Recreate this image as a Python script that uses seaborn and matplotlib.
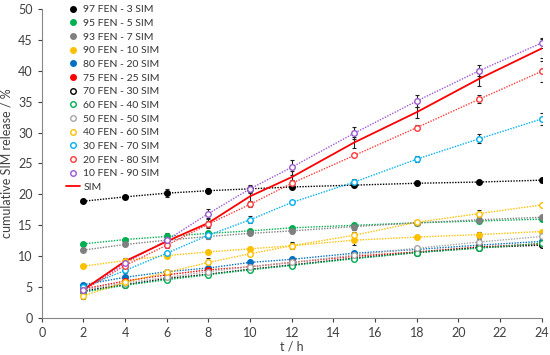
import numpy as np
import pandas as pd
import matplotlib
matplotlib.use("Agg")
import matplotlib.pyplot as plt
from matplotlib.lines import Line2D
import seaborn as sns

# sampling times (h)
t = [2, 4, 6, 8, 10, 12, 15, 18, 21, 24]

# cumulative SIM release (%) and error bars
s97_3 = [18.9, 19.6, 20.2, 20.6, 20.9, 21.2, 21.5, 21.8, 22.0, 22.3]
e97_3 = [0.2, 0.3, 0.6, 0.4, 0.5, 0.4, 0.3, 0.2, 0.2, 0.3]
s95_5 = [12.0, 12.7, 13.2, 13.7, 14.1, 14.6, 15.0, 15.4, 15.7, 16.0]
e95_5 = [0.2, 0.2, 0.5, 0.3, 0.3, 0.3, 0.3, 0.2, 0.3, 0.3]
s93_7 = [11.0, 11.9, 12.6, 13.2, 13.7, 14.1, 14.8, 15.4, 15.9, 16.3]
e93_7 = [0.2, 0.2, 0.6, 0.4, 0.3, 0.4, 0.5, 0.3, 0.3, 0.4]
s90_10 = [8.4, 9.3, 10.1, 10.7, 11.2, 11.7, 12.6, 13.1, 13.5, 14.0]
e90_10 = [0.2, 0.3, 0.3, 0.3, 0.3, 0.4, 0.8, 0.3, 0.5, 0.3]
s80_20 = [5.4, 6.6, 7.5, 8.1, 9.0, 9.5, 10.5, 11.1, 11.8, 12.4]
e80_20 = [0.3, 0.3, 0.3, 0.3, 0.3, 0.3, 0.3, 0.3, 0.3, 0.3]
s75_25 = [4.7, 6.0, 7.0, 7.8, 8.3, 9.0, 10.0, 10.7, 11.5, 12.0]
e75_25 = [0.3, 0.3, 0.3, 0.3, 0.3, 0.3, 0.3, 0.3, 0.3, 0.3]
s70_30 = [4.4, 5.4, 6.4, 7.1, 7.9, 8.6, 9.7, 10.6, 11.4, 11.8]
e70_30 = [0.3, 0.3, 0.3, 0.3, 0.3, 0.3, 0.3, 0.3, 0.4, 0.3]
s60_40 = [4.2, 5.3, 6.2, 7.0, 7.8, 8.5, 9.6, 10.6, 11.3, 12.1]
e60_40 = [0.3, 0.3, 0.3, 0.3, 0.3, 0.3, 0.3, 0.3, 0.3, 0.3]
s50_50 = [4.6, 5.7, 6.6, 7.5, 8.3, 9.0, 10.2, 11.3, 12.3, 13.2]
e50_50 = [0.3, 0.3, 0.3, 0.3, 0.3, 0.3, 0.3, 0.4, 0.5, 0.5]
s40_60 = [3.6, 5.8, 7.4, 9.0, 10.4, 11.7, 13.4, 15.5, 16.9, 18.3]
e40_60 = [0.5, 0.4, 0.4, 0.7, 0.4, 0.6, 0.5, 0.4, 0.5, 0.3]
s30_70 = [5.0, 7.7, 10.5, 13.4, 15.9, 18.7, 22.0, 25.7, 29.0, 32.2]
e30_70 = [0.4, 0.4, 0.4, 0.4, 0.6, 0.3, 0.5, 0.5, 0.7, 1.0]
s20_80 = [4.5, 8.5, 11.8, 15.2, 18.4, 21.8, 26.3, 30.8, 35.4, 39.9]
e20_80 = [0.4, 0.4, 0.5, 0.5, 0.4, 0.6, 0.3, 0.4, 0.6, 1.7]
s10_90 = [4.6, 8.9, 12.6, 16.9, 20.9, 24.4, 29.9, 35.1, 40.0, 44.5]
e10_90 = [0.4, 0.5, 0.6, 0.8, 0.7, 1.2, 1.0, 1.0, 0.9, 0.8]
sim = [4.6, 9.2, 12.4, 15.4, 19.7, 22.8, 28.4, 33.3, 38.7, 43.6]
e_sim = [0.4, 0.5, 0.8, 0.8, 0.8, 1.0, 0.9, 0.9, 1.2, 1.5]

labels = ["97 FEN - 3 SIM", "95 FEN - 5 SIM", "93 FEN - 7 SIM", "90 FEN - 10 SIM",
          "80 FEN - 20 SIM", "75 FEN - 25 SIM", "70 FEN - 30 SIM", "60 FEN - 40 SIM",
          "50 FEN - 50 SIM", "40 FEN - 60 SIM", "30 FEN - 70 SIM", "20 FEN - 80 SIM",
          "10 FEN - 90 SIM"]
values = [s97_3, s95_5, s93_7, s90_10, s80_20, s75_25, s70_30, s60_40,
          s50_50, s40_60, s30_70, s20_80, s10_90]
errors = [e97_3, e95_5, e93_7, e90_10, e80_20, e75_25, e70_30, e60_40,
          e50_50, e40_60, e30_70, e20_80, e10_90]
colors = ["#000000", "#00b050", "#808080", "#ffc000", "#0070c0", "#ff0000",
          "#000000", "#00b050", "#a6a6a6", "#ffc000", "#00b0f0", "#ff3b3b", "#9b59d0"]
filled = [True] * 6 + [False] * 7

sns.set_theme(style="white")
plt.rcParams["font.family"] = ["Lato", "DejaVu Sans"]

fig = plt.figure(figsize=(5.5, 3.55), dpi=100)
ax = fig.add_axes([0.076, 0.104, 0.909, 0.871])

for lab, v, e, c in zip(labels, values, errors, colors):
    ax.errorbar(t, v, yerr=e, fmt="none", ecolor="#222222", elinewidth=0.8,
                capsize=1.6, capthick=0.8, zorder=2)
    df = pd.DataFrame({"t": t, "val": v})
    sns.lineplot(data=df, x="t", y="val", ax=ax, color=c, linestyle=(0, (1, 1)),
                 linewidth=1.0, zorder=3)

ax.errorbar(t, sim, yerr=e_sim, fmt="none", ecolor="#222222", elinewidth=0.8,
            capsize=1.6, capthick=0.8, zorder=2)
sns.lineplot(x=t, y=sim, ax=ax, color="#ff0000", linewidth=1.3, zorder=4)

for v, c, f in zip(values, colors, filled):
    sns.scatterplot(x=t, y=v, ax=ax, s=16, marker="o",
                    facecolor=c if f else "white", edgecolor=c,
                    linewidth=1.0, zorder=5)

ax.set_xlim(0, 24)
ax.set_ylim(0, 50)
ax.set_xticks(range(0, 25, 2))
ax.set_yticks(range(0, 51, 5))
ax.set_xlabel("t / h", fontsize=9, color="#404040", labelpad=1)
ax.set_ylabel("cumulative SIM release / %", fontsize=9, color="#404040", labelpad=4)
ax.tick_params(axis="both", labelsize=9, colors="#404040", length=3,
               direction="out", bottom=True, left=True, width=0.8)
for side in ["top", "right"]:
    ax.spines[side].set_visible(False)
for side in ["left", "bottom"]:
    ax.spines[side].set_color("#868686")
    ax.spines[side].set_linewidth(0.8)

handles = []
for lab, c, f in zip(labels, colors, filled):
    handles.append(Line2D([], [], linestyle="none", marker="o", markersize=4,
                          markerfacecolor=c if f else "white",
                          markeredgecolor=c, markeredgewidth=1.0, label=lab))
handles.append(Line2D([], [], color="#ff0000", linewidth=1.3, label="SIM"))
ax.legend(handles=handles, loc="upper left", bbox_to_anchor=(66 / 550, 1 - 5 / 355),
          bbox_transform=fig.transFigure, frameon=False, fontsize=7.5,
          labelspacing=0.42, handlelength=1.35, handletextpad=0.3,
          borderpad=0, borderaxespad=0, labelcolor="#333333")

fig.savefig("out.png", dpi=100)
